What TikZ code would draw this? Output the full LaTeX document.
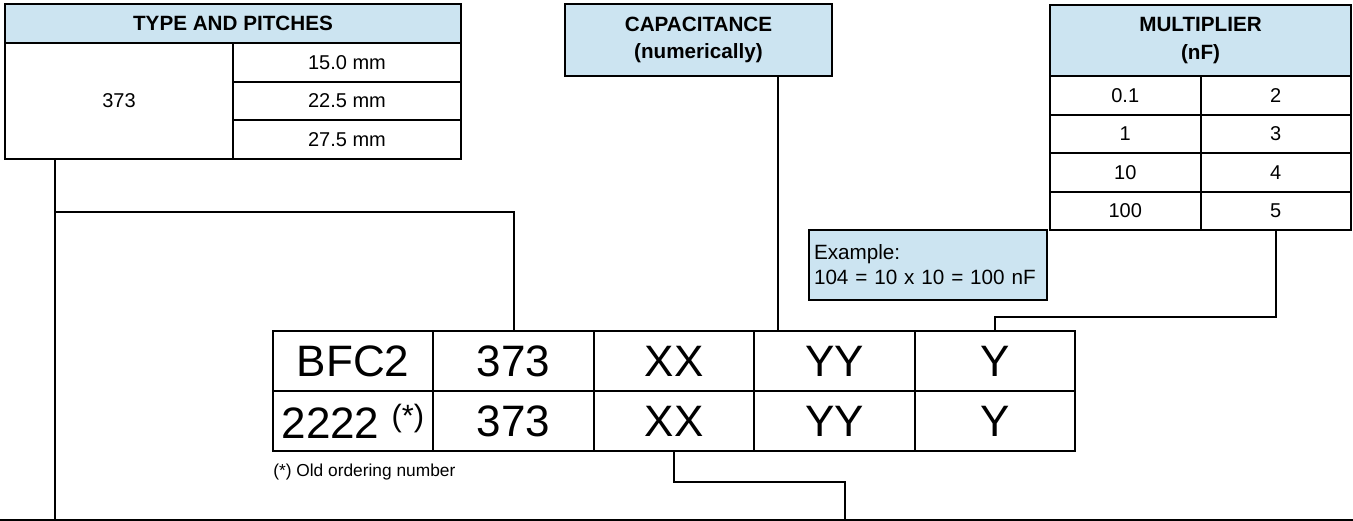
\documentclass[tikz,border=0pt]{standalone}
\usepackage{fontspec}
\setmainfont{Liberation Sans}
\definecolor{hdr}{RGB}{204,228,241}
\def\px{0.75pt}
\begin{document}
\begin{tikzpicture}[x=0.75pt,y=-0.75pt,
  cell/.style={draw, line width=1.5pt, inner sep=0pt, align=center, font=\fontsize{15}{18}\selectfont},
  head/.style={cell, fill=hdr, font=\bfseries\fontsize{15.5}{20.5}\selectfont},
  codecell/.style={cell, minimum width=160.4*\px, minimum height=60*\px, font=\fontsize{33}{36}\selectfont},
  wire/.style={line width=1.5pt}]
\useasboundingbox (0,0) rectangle (1353,521);

% TYPE AND PITCHES table
\node[head, minimum width=456*\px, minimum height=39*\px] (th) at (233,23.5) {TYPE AND PITCHES};
\node[cell, minimum width=228*\px, minimum height=116*\px] (t373) at (119,101) {373};
\node[cell, minimum width=228*\px, minimum height=39*\px] (tp1) at (347,62.5) {15.0 mm};
\node[cell, minimum width=228*\px, minimum height=38*\px] (tp2) at (347,101) {22.5 mm};
\node[cell, minimum width=228*\px, minimum height=39*\px] (tp3) at (347,139.5) {27.5 mm};

% CAPACITANCE box
\node[head, minimum width=267*\px, minimum height=72*\px] (cap) at (698.5,40) {CAPACITANCE\\(numerically)};

% MULTIPLIER table
\node[head, minimum width=301*\px, minimum height=71*\px] (mh) at (1200.5,40.5) {MULTIPLIER\\(nF)};
\node[cell, minimum width=150.5*\px, minimum height=39*\px] (m1a) at (1125.25,95.5) {0.1};
\node[cell, minimum width=150.5*\px, minimum height=39*\px] (m1b) at (1275.75,95.5) {2};
\node[cell, minimum width=150.5*\px, minimum height=38*\px] (m2a) at (1125.25,134) {1};
\node[cell, minimum width=150.5*\px, minimum height=38*\px] (m2b) at (1275.75,134) {3};
\node[cell, minimum width=150.5*\px, minimum height=39*\px] (m3a) at (1125.25,172.5) {10};
\node[cell, minimum width=150.5*\px, minimum height=39*\px] (m3b) at (1275.75,172.5) {4};
\node[cell, minimum width=150.5*\px, minimum height=38*\px] (m4a) at (1125.25,211) {100};
\node[cell, minimum width=150.5*\px, minimum height=38*\px] (m4b) at (1275.75,211) {5};

% Example box
\node[cell, fill=hdr, minimum width=238*\px, minimum height=70*\px, text width=228*\px, align=left,
      font=\fontsize{15.5}{18.75}\selectfont] (ex) at (928,265) {Example:\\104 = 10 x 10 = 100 nF};

% Code table
\node[codecell] (c1a) at (353.2,361) {BFC2};
\node[codecell] (c2a) at (513.6,361) {373};
\node[codecell] (c3a) at (674.0,361) {XX};
\node[codecell] (c4a) at (834.4,361) {YY};
\node[codecell] (c5a) at (994.8,361) {Y};
\node[codecell] (c1b) at (353.2,421) {2222 \textsuperscript{(*)}};
\node[codecell] (c2b) at (513.6,421) {373};
\node[codecell] (c3b) at (674.0,421) {XX};
\node[codecell] (c4b) at (834.4,421) {YY};
\node[codecell] (c5b) at (994.8,421) {Y};

\node[anchor=west, inner sep=0pt, font=\fontsize{13}{15}\selectfont] (note) at (273,472) {(*) Old ordering number};

% connectors
\coordinate (ts) at (55,159);
\coordinate (te) at (55,521);
\coordinate (tj) at (55,212);
\coordinate (cs) at (778,76);
\coordinate (xb) at (845,520);
\coordinate (bl) at (0,520);
\coordinate (br) at (1353,520);

\draw[wire] (ts) -- (te);
\draw[wire] (tj) -| (c2a.north);
\draw[wire] (cs) -- (cs |- c4a.north);
\draw[wire] (m4b.south) -- ++(0,86) -| (c5a.north);
\draw[wire] (c3b.south) -- ++(0,30) -| (xb);
\draw[wire] (bl) -- (br);
\end{tikzpicture}
\end{document}
